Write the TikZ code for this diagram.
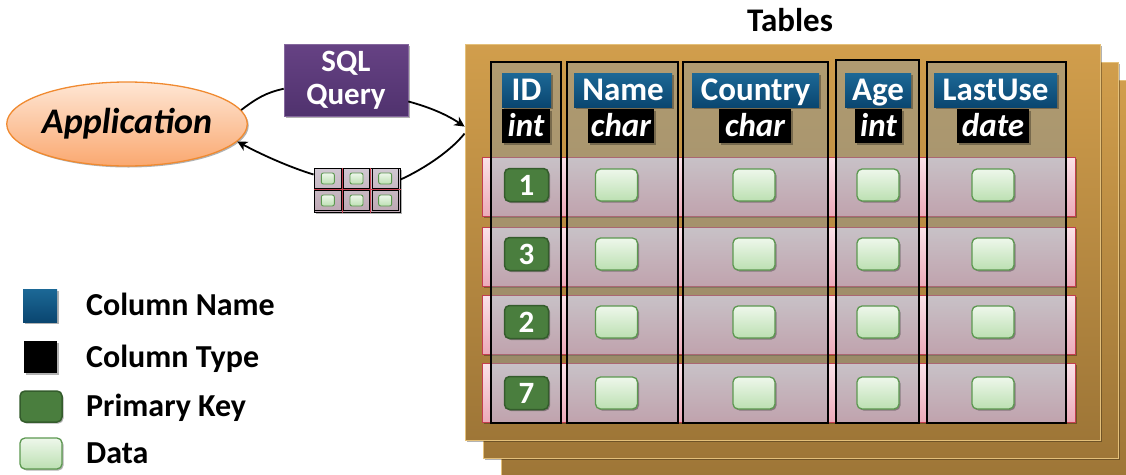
\documentclass[tikz,border=0pt]{standalone}
\usepackage{fontspec}
\setmainfont{Carlito}
\usetikzlibrary{arrows.meta,calc,shadows,shapes.geometric}

\definecolor{sheetTop}{RGB}{209,158,76}
\definecolor{sheetBot}{RGB}{158,118,55}
\definecolor{sheetEdge}{RGB}{228,192,122}
\definecolor{rowTop}{RGB}{250,226,232}
\definecolor{rowBot}{RGB}{236,170,185}
\definecolor{rowEdge}{RGB}{196,62,78}
\definecolor{colVeil}{RGB}{140,155,160}
\definecolor{hdrTop}{RGB}{28,104,150}
\definecolor{hdrBot}{RGB}{10,70,112}
\definecolor{pkFill}{RGB}{74,126,62}
\definecolor{pkEdge}{RGB}{52,92,44}
\definecolor{dTop}{RGB}{238,247,235}
\definecolor{dBot}{RGB}{188,224,178}
\definecolor{dEdge}{RGB}{92,152,80}
\definecolor{sqlTop}{RGB}{102,66,132}
\definecolor{sqlBot}{RGB}{80,50,110}
\definecolor{appTop}{RGB}{254,230,212}
\definecolor{appBot}{RGB}{250,168,112}
\definecolor{appEdge}{RGB}{240,138,48}
\definecolor{resTop}{RGB}{208,200,210}
\definecolor{resBot}{RGB}{190,168,180}

\tikzset{
  softshadow/.style={drop shadow={shadow xshift=1.5pt,shadow yshift=-1.5pt,opacity=0.3,fill=black}},
  sheet/.style={minimum width=635pt,minimum height=396pt,inner sep=0pt,
    top color=sheetTop,bottom color=sheetBot,draw=sheetEdge,line width=0.9pt,softshadow},
  datarow/.style={minimum width=593pt,minimum height=59pt,inner sep=0pt,
    top color=rowTop,bottom color=rowBot,draw=rowEdge,line width=0.9pt,softshadow},
  tcol/.style={inner sep=0pt,fill=colVeil,fill opacity=0.45,draw=black,draw opacity=1,line width=1.1pt},
  colname/.style={minimum height=34pt,inner sep=0pt,text height=20pt,text depth=0pt,
    top color=hdrTop,bottom color=hdrBot,text=white,font=\fontsize{33}{34}\selectfont\bfseries,softshadow},
  coltype/.style={minimum height=34pt,inner sep=0pt,text height=20pt,text depth=0pt,
    fill=black,text=white,font=\fontsize{33}{34}\selectfont\bfseries\itshape,softshadow},
  pkbox/.style={minimum width=44pt,minimum height=33pt,inner sep=0pt,text height=20pt,text depth=0pt,
    rounded corners=5pt,fill=pkFill,draw=pkEdge,line width=1.5pt,text=white,
    font=\fontsize{31}{32}\selectfont\bfseries,softshadow},
  databox/.style={minimum width=42pt,minimum height=32pt,inner sep=0pt,rounded corners=5pt,
    top color=dTop,bottom color=dBot,draw=dEdge,line width=1.3pt,softshadow},
  minibox/.style={minimum width=13pt,minimum height=11pt,inner sep=0pt,rounded corners=2pt,
    top color=dTop,bottom color=dBot,draw=dEdge,line width=0.9pt},
  legtext/.style={anchor=base west,inner sep=0pt,font=\fontsize{32}{34}\selectfont\bfseries},
  conn/.style={line width=1.8pt,draw=black},
  tip/.style={-{Stealth[length=10pt,width=10pt,inset=3pt]}}
}

\begin{document}
\begin{tikzpicture}[x=1pt,y=-1pt]
\useasboundingbox (0,0) rectangle (1126,474);

% stack of table sheets
\node[sheet] (sheetC) at (818.5,278) {};
\node[sheet] (sheetB) at (800.5,260) {};
\node[sheet] (tbl) at (782.5,242) {};
\node[anchor=base,inner sep=0pt,font=\fontsize{33}{34}\selectfont\bfseries] (ttl) at (790,31) {Tables};

% data rows
\node[datarow] (r1) at (778.5,186.5) {};
\node[datarow] (r2) at (778.5,257) {};
\node[datarow] (r3) at (778.5,324.5) {};
\node[datarow] (r4) at (778.5,392.5) {};

% column frames
\node[tcol,minimum width=70pt,minimum height=361pt] (cID) at (526,242.5) {};
\node[tcol,minimum width=111pt,minimum height=361pt] (cName) at (622.5,242.5) {};
\node[tcol,minimum width=145pt,minimum height=361pt] (cCountry) at (755.5,242.5) {};
\node[tcol,minimum width=83pt,minimum height=363pt] (cAge) at (877.5,241.5) {};
\node[tcol,minimum width=139pt,minimum height=361pt] (cLast) at (996.5,242.5) {};

% column names
\node[colname,minimum width=49pt] (nID) at (526.5,90) {ID};
\node[colname,minimum width=98pt] (nName) at (623,90) {Name};
\node[colname,minimum width=127pt] (nCountry) at (755.5,90) {Country};
\node[colname,minimum width=66pt] (nAge) at (878,90) {Age};
\node[colname,minimum width=123pt] (nLast) at (995.5,90) {LastUse};

% column types
\node[coltype,minimum width=48pt] (tID) at (526,126) {int};
\node[coltype,minimum width=66pt] (tName) at (621,126) {char};
\node[coltype,minimum width=72pt] (tCountry) at (755,126) {char};
\node[coltype,minimum width=47pt] (tAge) at (878.5,126) {int};
\node[coltype,minimum width=72pt] (tLast) at (993,126) {date};

% cells
\foreach \k/\yy/\key in {1/185/1,2/254/3,3/322/2,4/393/7}{
  \node[pkbox] (pk\k) at (526.5,\yy) {\key};
  \node[databox] (dn\k) at (616.5,\yy) {};
  \node[databox] (dc\k) at (754,\yy) {};
  \node[databox] (da\k) at (878,\yy) {};
  \node[databox] (dl\k) at (993,\yy) {};
}

% application and query
\node[ellipse,minimum width=232pt,minimum height=84pt,inner sep=0pt,
  top color=appTop,bottom color=appBot,draw=appEdge,line width=1.3pt,softshadow,
  font=\fontsize{36}{38}\selectfont\bfseries\itshape] (app) at (127,124) {Application};
\node[minimum width=124pt,minimum height=72pt,inner sep=0pt,align=center,
  top color=sqlTop,bottom color=sqlBot,draw=sqlTop!80!white,line width=0.6pt,softshadow,
  text=white,font=\fontsize{31}{33}\selectfont\bfseries] (sql) at (346,80) {SQL\\Query};

% result set
\node[minimum width=86pt,minimum height=44pt,inner sep=0pt,
  top color=resTop,bottom color=resBot,draw=black,line width=1pt,softshadow] (res) at (357,190) {};
\foreach \i in {0,1,2}{
  \foreach \j in {0,1}{
    \draw[black,line width=0.9pt] ($(res.north west)+(\i*28.67+1.2,\j*22+1.2)$) rectangle ($(res.north west)+(\i*28.67+27.47,\j*22+20.8)$);
    \node[minibox] (m\i\j) at ($(res.north west)+(\i*28.67+14.33,\j*22+11)$) {};
  }
}
\draw[rowEdge,line width=0.7pt] ($(res.north west)+(0,22)$) -- ($(res.north east)+(0,22)$);
\draw[rowEdge,line width=0.7pt] ($(res.north west)+(28.67,0)$) -- ($(res.south west)+(28.67,0)$);
\draw[rowEdge,line width=0.7pt] ($(res.north west)+(57.33,0)$) -- ($(res.south west)+(57.33,0)$);

% request and response
\coordinate (inTip) at ($(tbl.north west)+(0,83)$);
\coordinate (outStart) at ($(tbl.north west)+(0,90)$);
\coordinate (resIn) at ($(res.north east)+(0,12)$);
\coordinate (resOut) at ($(res.north west)+(0,7)$);
\draw[conn] (app.7) .. controls +(16,-12) and +(-18,4) .. (sql.188);
\draw[conn,tip] (sql.-19) .. controls +(22,6) and +(-18,-12) .. (inTip);
\draw[conn] (outStart) .. controls +(-16,20) and +(18,-8) .. (resIn);
\draw[conn,tip] (resOut) .. controls +(-26,-8) and +(22,12) .. (app.-9);

% legend
\node[minimum width=34pt,minimum height=33pt,inner sep=0pt,top color=hdrTop,bottom color=hdrBot,softshadow] (lgName) at (40,305.5) {};
\node[minimum width=33pt,minimum height=32pt,inner sep=0pt,fill=black,softshadow] (lgType) at (40.5,357) {};
\node[minimum width=42pt,minimum height=31pt,inner sep=0pt,rounded corners=5pt,fill=pkFill,draw=pkEdge,line width=1.5pt,softshadow] (lgKey) at (41,406.5) {};
\node[databox,minimum width=42pt,minimum height=31pt] (lgData) at (41,453.5) {};
\node[legtext] (ltName) at (86,315.5) {Column Name};
\node[legtext] (ltType) at (86,367) {Column Type};
\node[legtext] (ltKey) at (86,416.5) {Primary Key};
\node[legtext] (ltData) at (86,463.5) {Data};
\end{tikzpicture}
\end{document}
